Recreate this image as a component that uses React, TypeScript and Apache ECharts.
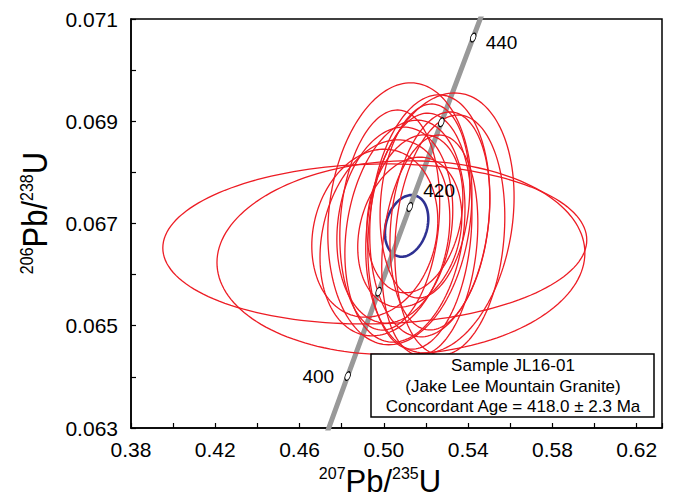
import React, { useEffect, useRef } from 'react';
import * as echarts from 'echarts';

// Concordia curve (Wetherill), ages in Ma
const concordiaAges = [380, 390, 400, 410, 420, 430, 440, 450];
const concordiaX = [0.45389, 0.46828, 0.48281, 0.49749, 0.51231, 0.52728, 0.54239, 0.55766];
const concordiaY = [0.06072, 0.062366, 0.064015, 0.065667, 0.067322, 0.068979, 0.070638, 0.0723];

// Age markers on the concordia
const markerAges = [400, 410, 420, 430, 440];
const markerX = [0.48281, 0.49749, 0.51231, 0.52728, 0.54239];
const markerY = [0.064015, 0.065667, 0.067322, 0.068979, 0.070638];
const labelledAges = [400, 420, 440];

// Red analysis error ellipses: centre (207/235, 206/238), half-widths, correlation
const ellCx = [0.4957, 0.5081, 0.5076, 0.5266, 0.5218, 0.5266, 0.5171, 0.51, 0.5052, 0.5005, 0.4957, 0.5123, 0.5195, 0.5147, 0.5313, 0.5218, 0.5028];
const ellCy = [0.0666, 0.06633, 0.06719, 0.06701, 0.06715, 0.06705, 0.06685, 0.06685, 0.06697, 0.06672, 0.06681, 0.06683, 0.06744, 0.06719, 0.066775, 0.066579, 0.067068];
const ellA = [0.1006, 0.0873, 0.0342, 0.0352, 0.0285, 0.0237, 0.0247, 0.0285, 0.0275, 0.0308, 0.0299, 0.0247, 0.0213, 0.0228, 0.0261, 0.0228, 0.0237];
const ellB = [0.001565, 0.001897, 0.002562, 0.002543, 0.002367, 0.002132, 0.002308, 0.002171, 0.001917, 0.001917, 0.001643, 0.001467, 0.001897, 0.001545, 0.002347, 0.002152, 0.002152];
const ellRho = [0.05, 0.05, 0.15, 0.2, 0.15, 0.2, 0.15, 0.2, 0.15, 0.2, 0.15, 0.2, 0.15, 0.2, 0.15, 0.2, 0.15];

// Concordant age ellipse (blue)
const concCx = [0.5108];
const concCy = [0.066953];
const concA = [0.01029];
const concB = [0.000603];
const concRho = [0.23];

const xMin = 0.38;
const xMax = 0.632;
const xStep = 0.02;
const yMin = 0.063;
const yMax = 0.071;
const yStep = 0.001;

const boxLines = ['Sample JL16-01', '(Jake Lee Mountain Granite)', 'Concordant Age = 418.0 ± 2.3 Ma'];

const FONT = '"Liberation Sans", Arial, Helvetica, sans-serif';

function ellipseRender(color: string, width: number) {
  return (params: any, api: any) => {
    const cx = api.value(0);
    const cy = api.value(1);
    const a = api.value(2);
    const b = api.value(3);
    const r = api.value(4);
    const pts: number[][] = [];
    const n = 160;
    const s = Math.sqrt(1 - r * r);
    for (let i = 0; i < n; i++) {
      const t = (i / n) * Math.PI * 2;
      const x = cx + a * Math.cos(t);
      const y = cy + b * (r * Math.cos(t) + s * Math.sin(t));
      pts.push(api.coord([x, y]));
    }
    return {
      type: 'polygon',
      shape: { points: pts },
      style: { fill: 'none', stroke: color, lineWidth: width },
    };
  };
}

export default function App() {
  const ref = useRef<HTMLDivElement>(null);
  useEffect(() => {
    if (!ref.current) return;
    const chart = echarts.init(ref.current, undefined, { renderer: 'svg' });

    const redData = ellCx.map((v, i) => [v, ellCy[i], ellA[i], ellB[i], ellRho[i]]);
    const blueData = concCx.map((v, i) => [v, concCy[i], concA[i], concB[i], concRho[i]]);
    const lineData = concordiaAges.map((_, i) => [concordiaX[i], concordiaY[i]]);
    const labelBase = { show: true, color: '#000', fontSize: 19, fontFamily: FONT };
    const markerData = markerAges.map((age, i) => {
      const shown = labelledAges.includes(age);
      let label: any = { show: false };
      if (shown) {
        if (age === 400) label = { ...labelBase, position: 'left', distance: 9, formatter: String(age) };
        else if (age === 420) label = { ...labelBase, position: 'right', distance: 9, offset: [0, -17], formatter: String(age) };
        else label = { ...labelBase, position: 'right', distance: 8, offset: [0, 5], formatter: String(age) };
      }
      return { value: [markerX[i], markerY[i]], label };
    });

    const sup = { fontSize: 16, fontFamily: FONT, fill: '#000', lineHeight: 31, verticalAlign: 'top' };
    const main = { fontSize: 31, fontFamily: FONT, fill: '#000', lineHeight: 31 };

    chart.setOption({
      animation: false,
      backgroundColor: '#fff',
      grid: {
        left: 131,
        top: 19,
        right: 13,
        bottom: 71,
        show: true,
        borderColor: '#000',
        borderWidth: 1.5,
        backgroundColor: 'transparent',
      },
      xAxis: {
        type: 'value',
        min: xMin,
        max: xMax,
        interval: xStep,
        axisLine: { show: true, lineStyle: { color: '#000', width: 1.5 } },
        axisTick: { show: true, inside: true, length: 5, lineStyle: { color: '#000', width: 1.2 } },
        splitLine: { show: false },
        axisLabel: {
          color: '#000',
          fontSize: 21,
          fontFamily: FONT,
          margin: 11,
          showMinLabel: true,
          formatter: (v: number) => {
            const n = Math.round(v * 100);
            if (Math.abs(v * 100 - n) > 1e-6) return '';
            return (n - 38) % 4 === 0 ? v.toFixed(2) : '';
          },
        },
      },
      yAxis: {
        type: 'value',
        min: yMin,
        max: yMax,
        interval: yStep,
        axisLine: { show: true, lineStyle: { color: '#000', width: 1.5 } },
        axisTick: { show: true, inside: true, length: 5, lineStyle: { color: '#000', width: 1.2 } },
        splitLine: { show: false },
        axisLabel: {
          color: '#000',
          fontSize: 21,
          fontFamily: FONT,
          margin: 13,
          showMinLabel: true,
          showMaxLabel: true,
          formatter: (v: number) => {
            const n = Math.round(v * 1000);
            return n % 2 === 1 ? v.toFixed(3) : '';
          },
        },
      },
      series: [
        {
          type: 'custom',
          name: 'concordant',
          renderItem: ellipseRender('#2e3192', 2.6),
          data: blueData,
          dimensions: ['x', 'y', 'a', 'b', 'rho'],
          encode: { x: 0, y: 1 },
          clip: true,
          z: 1,
          silent: true,
        },
        {
          type: 'line',
          name: 'concordia',
          data: lineData,
          showSymbol: false,
          symbol: 'none',
          lineStyle: { color: '#999999', width: 5 },
          clip: true,
          z: 2,
          silent: true,
        },
        {
          type: 'custom',
          name: 'analyses',
          renderItem: ellipseRender('#ed1c24', 1.3),
          data: redData,
          dimensions: ['x', 'y', 'a', 'b', 'rho'],
          encode: { x: 0, y: 1 },
          clip: true,
          z: 3,
          silent: true,
        },
        {
          type: 'scatter',
          name: 'ages',
          data: markerData,
          symbol: 'circle',
          symbolSize: [5, 9],
          symbolRotate: -20,
          itemStyle: { color: '#fff', borderColor: '#000', borderWidth: 1, opacity: 1 },
          label: { color: '#000', fontSize: 19, fontFamily: FONT },
          z: 4,
          silent: true,
        },
      ],
      graphic: [
        {
          type: 'rect',
          z: 100,
          shape: { x: 371, y: 354, width: 283, height: 63 },
          style: { fill: '#fff', stroke: '#000', lineWidth: 1.5 },
        },
        ...boxLines.map((t, i) => ({
          type: 'text',
          z: 101,
          x: 513,
          y: 365.5 + i * 20.5,
          style: {
            text: t,
            font: `17px ${FONT}`,
            fill: '#000',
            align: 'center',
            verticalAlign: 'middle',
            textAlign: 'center',
            textVerticalAlign: 'middle',
          },
        })),
        {
          type: 'text',
          z: 101,
          x: 380,
          y: 481,
          style: {
            text: '{sup|207}{main|Pb/}{sup|235}{main|U}',
            rich: { sup, main },
            align: 'center',
            verticalAlign: 'middle',
            textAlign: 'center',
            textVerticalAlign: 'middle',
          },
        },
        {
          type: 'text',
          z: 101,
          x: 35,
          y: 213,
          rotation: Math.PI / 2,
          scaleY: 1.15,
          style: {
            text: '{sup|206}{main|Pb/}{sup|238}{main|U}',
            rich: { sup, main },
            align: 'center',
            verticalAlign: 'middle',
            textAlign: 'center',
            textVerticalAlign: 'middle',
          },
        },
      ],
    });
    return () => chart.dispose();
  }, []);
  return (
    <div
      ref={ref}
      style={{ position: 'absolute', left: 0, top: 0, width: 675, height: 499 }}
    />
  );
}
